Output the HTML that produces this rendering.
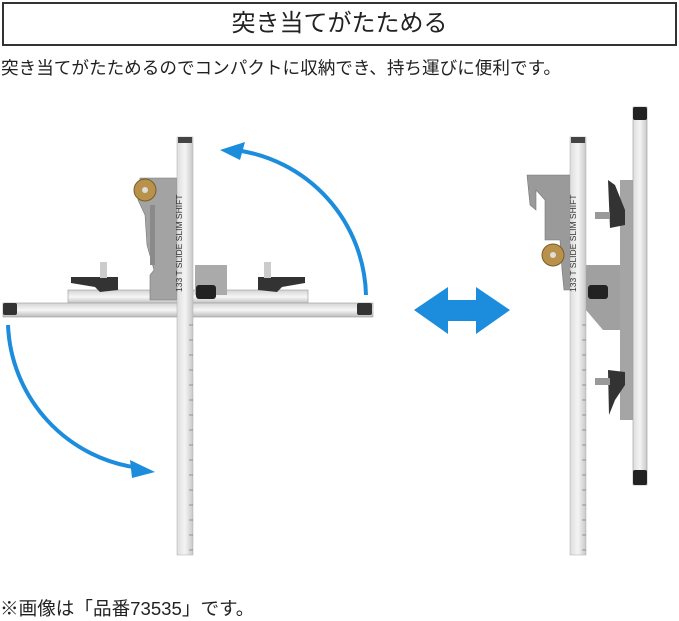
<!DOCTYPE html>
<html><head><meta charset="utf-8"><style>
body{margin:0;width:679px;height:618px;background:#fff;overflow:hidden;position:relative;font-family:"Liberation Sans","Noto Sans CJK JP",sans-serif;color:#222}
.box{position:absolute;left:2px;top:2px;width:671px;height:40px;border:2px solid #333;text-align:center;font-size:24px;line-height:40px}
.sub{position:absolute;left:1px;top:55px;font-size:17.6px;white-space:nowrap;letter-spacing:0px}
.ft{position:absolute;left:0;top:594px;font-size:18.6px;white-space:nowrap}
svg{position:absolute;left:0;top:0}
</style></head><body>
<div class="box">突き当てがたためる</div>
<div class="sub">突き当てがたためるのでコンパクトに収納でき、持ち運びに便利です。</div>
<svg width="679" height="618" viewBox="0 0 679 618">
<defs><linearGradient id="g" x1="0" x2="1"><stop offset="0" stop-color="#ddd"/><stop offset="0.5" stop-color="#f4f4f4"/><stop offset="1" stop-color="#c8c8c8"/></linearGradient>
<linearGradient id="h" x1="0" x2="0" y1="0" y2="1"><stop offset="0" stop-color="#d4d4d4"/><stop offset="0.5" stop-color="#f6f6f6"/><stop offset="1" stop-color="#bbb"/></linearGradient></defs>
<!-- left figure -->
<rect x="68" y="290" width="240" height="14" fill="url(#h)" stroke="#999" stroke-width="0.6"/>
<path d="M140 178 L177 178 L177 300 L150 300 L150 275 L154 270 L147 245 L145 215 L138 200 Z" fill="#a3a3a3" stroke="#777" stroke-width="0.6"/>
<rect x="150" y="205" width="5" height="60" fill="#8a8a8a"/>
<rect x="195" y="265" width="32" height="30" fill="#aaa"/>
<circle cx="145" cy="190" r="11" fill="#b8924a" stroke="#7a5d28"/>
<circle cx="145" cy="190" r="3" fill="#ddd"/>
<rect x="3" y="303" width="370" height="14" fill="url(#h)" stroke="#999" stroke-width="0.6"/>
<rect x="3" y="303" width="14" height="12" fill="#333" rx="2"/>
<rect x="357" y="303" width="15" height="12" fill="#333" rx="2"/>
<path d="M71 277 L118 277 L118 290 L100 292 L95 287 L71 283 Z" fill="#333"/>
<rect x="100" y="262" width="7" height="16" fill="#ccc"/>
<path d="M258 277 L305 277 L305 283 L282 287 L277 292 L258 290 Z" fill="#333"/>
<rect x="264" y="262" width="7" height="16" fill="#ccc"/>
<rect x="196" y="285" width="20" height="14" fill="#222" rx="3"/>
<rect x="177" y="137" width="16" height="418" fill="url(#g)" stroke="#aaa" stroke-width="0.5"/>
<rect x="178" y="137" width="14" height="6" fill="#444"/>
<text x="0" y="0" transform="translate(182,292) rotate(-90)" font-size="8.5" fill="#333">133 T SLIDE SLIM SHIFT</text>
<g stroke="#555" stroke-width="0.6">
<path d="M189 325h4M189 340h4M189 355h4M189 370h4M189 385h4M189 400h4M189 415h4M189 430h4M189 445h4M189 460h4M189 475h4M189 490h4M189 505h4M189 520h4M189 535h4M189 550h4"/></g>
<path d="M366 295 A150 150 0 0 0 235 150" fill="none" stroke="#1b8ddc" stroke-width="4"/>
<path d="M220 150 L245 142 L240 160 Z" fill="#1b8ddc"/>
<path d="M8 325 A150 150 0 0 0 140 468" fill="none" stroke="#1b8ddc" stroke-width="4"/>
<path d="M155 472 L130 460 L132 478 Z" fill="#1b8ddc"/>
<!-- double arrow -->
<path d="M414 310 L448 287 L448 300 L476 300 L476 287 L510 310 L476 334 L476 321 L448 321 L448 334 Z" fill="#1b8ddc"/>
<!-- right figure -->
<path d="M527 175 L570 175 L570 290 L564 290 L562 270 L560 240 L545 240 L545 200 L536 190 L536 210 L530 205 Z" fill="#9a9a9a" stroke="#777" stroke-width="0.6"/>
<rect x="620" y="180" width="15" height="240" fill="#a5a5a5"/>
<path d="M586 265 L620 265 L620 330 L603 330 L586 310 Z" fill="#a0a0a0"/>
<circle cx="553" cy="255" r="11" fill="#b8924a" stroke="#7a5d28"/>
<circle cx="553" cy="255" r="3" fill="#ddd"/>
<path d="M608 180 L615 185 L625 210 L625 225 L610 228 Z" fill="#333"/>
<rect x="595" y="212" width="15" height="7" fill="#999"/>
<path d="M608 370 L625 372 L625 385 L615 400 L609 415 Z" fill="#333"/>
<rect x="595" y="378" width="15" height="7" fill="#999"/>
<rect x="588" y="285" width="20" height="14" fill="#222" rx="3"/>
<rect x="633" y="107" width="14" height="378" fill="url(#g)" stroke="#999" stroke-width="0.6"/>
<rect x="633" y="107" width="14" height="13" fill="#222" rx="2"/>
<rect x="633" y="470" width="14" height="15" fill="#222" rx="2"/>
<rect x="570" y="137" width="16" height="418" fill="url(#g)" stroke="#aaa" stroke-width="0.5"/>
<rect x="571" y="137" width="14" height="6" fill="#444"/>
<text x="0" y="0" transform="translate(576,292) rotate(-90)" font-size="8.5" fill="#333">133 T SLIDE SLIM SHIFT</text>
<g stroke="#555" stroke-width="0.6">
<path d="M582 325h4M582 340h4M582 355h4M582 370h4M582 385h4M582 400h4M582 415h4M582 430h4M582 445h4M582 460h4M582 475h4M582 490h4M582 505h4M582 520h4M582 535h4M582 550h4"/></g>
</svg>
<div class="ft">※画像は「品番73535」です。</div>
</body></html>
